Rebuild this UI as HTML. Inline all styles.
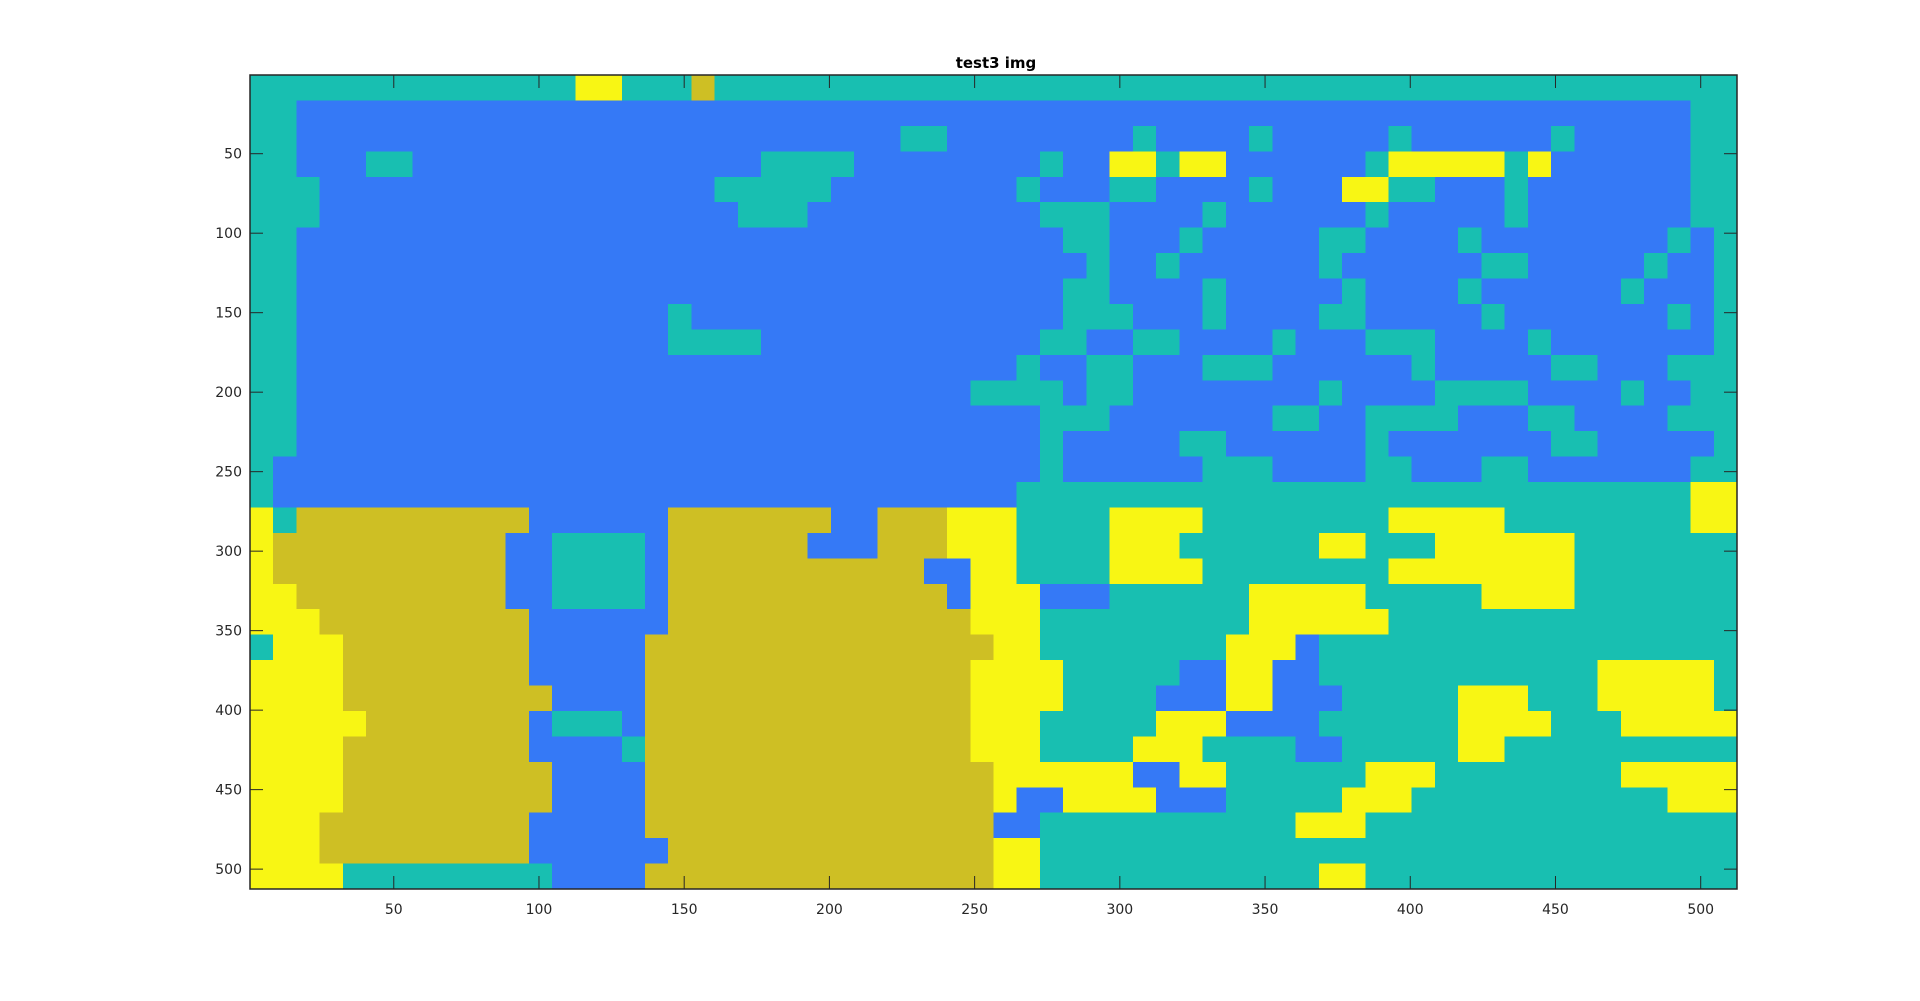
<!DOCTYPE html>
<html><head><meta charset="utf-8"><style>
html,body{margin:0;padding:0;background:#fff;}
svg{display:block;font-family:"DejaVu Sans","Liberation Sans",sans-serif;}
</style></head><body>
<svg id="chart" width="1920" height="1001" viewBox="0 0 1920 1001">
<rect x="0" y="0" width="1920" height="1001" fill="#ffffff"/>
<text x="996" y="68" text-anchor="middle" font-size="15" font-weight="bold" fill="#000">test3 img</text>
<g id="cells" shape-rendering="crispEdges"></g>
<g id="axes"></g>
</svg>
<script>
// Row data: run-length encoded class labels per 16-pixel row band (64 columns of 8 px each)
const rowRuns = [
"T14 Y2 T3 O1 T44",
"T2 B60 T2",
"T2 B26 T2 B8 T1 B4 T1 B5 T1 B6 T1 B5 T2",
"T2 B3 T2 B15 T4 B8 T1 B2 Y2 T1 Y2 B6 T1 Y5 T1 Y1 B6 T2",
"T3 B17 T5 B8 T1 B3 T2 B4 T1 B3 Y2 T2 B3 T1 B7 T2",
"T3 B18 T3 B10 T3 B4 T1 B6 T1 B5 T1 B7 T2",
"T2 B33 T2 B3 T1 B5 T2 B4 T1 B8 T1 B1 T1",
"T2 B34 T1 B2 T1 B6 T1 B6 T2 B5 T1 B2 T1",
"T2 B33 T2 B4 T1 B5 T1 B4 T1 B6 T1 B3 T1",
"T2 B16 T1 B16 T3 B3 T1 B4 T2 B5 T1 B7 T1 B1 T1",
"T2 B16 T4 B12 T2 B2 T2 B4 T1 B3 T3 B4 T1 B7 T1",
"T2 B31 T1 B2 T2 B3 T3 B6 T1 B5 T2 B3 T3",
"T2 B29 T4 B1 T2 B8 T1 B4 T4 B4 T1 B2 T2",
"T2 B32 T3 B7 T2 B2 T4 B3 T2 B4 T3",
"T2 B32 T1 B5 T2 B6 T1 B7 T2 B5 T1",
"T1 B33 T1 B6 T3 B4 T2 B3 T2 B7 T2",
"T1 B32 T29 Y2",
"Y1 T1 O10 B6 O7 B2 O3 Y3 T4 Y4 T8 Y5 T8 Y2",
"Y1 O10 B2 T4 B1 O6 B3 O3 Y3 T4 Y3 T6 Y2 T3 Y6 T7",
"Y1 O10 B2 T4 B1 O11 B2 Y2 T4 Y4 T8 Y8 T7",
"Y2 O9 B2 T4 B1 O12 B1 Y3 B3 T6 Y5 T5 Y4 T7",
"Y3 O9 B6 O13 Y3 T9 Y6 T15",
"T1 Y3 O8 B5 O15 Y2 T8 Y3 B1 T18",
"Y4 O8 B5 O14 Y4 T5 B2 Y2 B2 T12 Y5 T1",
"Y4 O9 B4 O14 Y4 T4 B3 Y2 B3 T5 Y3 T3 Y5 T1",
"Y5 O7 B1 T3 B1 O14 Y3 T5 Y3 B4 T6 Y4 T3 Y5",
"Y4 O8 B4 T1 O14 Y3 T4 Y3 T4 B2 T5 Y2 T10",
"Y4 O9 B4 O15 Y6 B2 Y2 T6 Y3 T8 Y5",
"Y4 O9 B4 O15 Y1 B2 Y4 B3 T5 Y3 T11 Y3",
"Y3 O9 B5 O15 B2 T11 Y3 T16",
"Y3 O9 B6 O14 Y2 T30",
"Y4 T9 B4 O15 Y2 T12 Y2 T16"
];
const classNames = ["B","T","Y","O"];
const classColors = ["#3579f6","#18bfb1","#f8f614","#cebf24"];
const xTicks = [50,100,150,200,250,300,350,400,450,500];
const yTicks = [50,100,150,200,250,300,350,400,450,500];

const NS = "http://www.w3.org/2000/svg";
const L = 250, T = 75, W = 1487, H = 814, N = 512;
const COLW = 8, ROWH = 16;
function xs(v){ return L + (v - 0.5) * W / N; }
function ys(v){ return T + (v - 0.5) * H / N; }

const cells = document.getElementById('cells');
rowRuns.forEach((row, r) => {
  let c = 0;
  row.trim().split(/\s+/).forEach(tok => {
    const k = tok[0], n = parseInt(tok.slice(1), 10);
    const x0 = xs(c * COLW + 0.5), x1 = xs(Math.min((c + n) * COLW, N) + 0.5);
    const y0 = ys(r * ROWH + 0.5), y1 = ys((r + 1) * ROWH + 0.5);
    const rect = document.createElementNS(NS, 'rect');
    rect.setAttribute('x', x0.toFixed(2));
    rect.setAttribute('y', y0.toFixed(2));
    rect.setAttribute('width', (x1 - x0 + 0.6).toFixed(2));
    rect.setAttribute('height', (y1 - y0 + 0.6).toFixed(2));
    rect.setAttribute('fill', classColors[classNames.indexOf(k)]);
    
    
    cells.appendChild(rect);
    c += n;
  });
});

const axes = document.getElementById('axes');
const box = document.createElementNS(NS, 'rect');
box.setAttribute('x', L); box.setAttribute('y', T);
box.setAttribute('width', W); box.setAttribute('height', H);
box.setAttribute('fill', 'none'); box.setAttribute('stroke', '#262626'); box.setAttribute('stroke-width', '1.5');


axes.appendChild(box);

function line(x1,y1,x2,y2,name){
  const l = document.createElementNS(NS, 'line');
  l.setAttribute('x1', x1); l.setAttribute('y1', y1); l.setAttribute('x2', x2); l.setAttribute('y2', y2);
  l.setAttribute('stroke', '#262626'); l.setAttribute('stroke-width', '1');
  
  
  axes.appendChild(l);
}
function label(x,y,txt,anchor,name){
  const t = document.createElementNS(NS, 'text');
  t.setAttribute('x', x); t.setAttribute('y', y); t.setAttribute('text-anchor', anchor);
  t.setAttribute('font-size', '14'); t.setAttribute('fill', '#262626');
  t.textContent = txt;
  
  
  axes.appendChild(t);
}
xTicks.forEach(v => {
  const x = xs(v);
  line(x, T + H, x, T + H - 13, 'x-tick');
  line(x, T, x, T + 13, 'x-tick-top');
  label(x, T + H + 25, String(v), 'middle', 'x-tick-label');
});
yTicks.forEach(v => {
  const y = ys(v);
  line(L, y, L + 13, y, 'y-tick');
  line(L + W, y, L + W - 13, y, 'y-tick-right');
  label(L - 8, y + 5, String(v), 'end', 'y-tick-label');
});
</script>
</body></html>
